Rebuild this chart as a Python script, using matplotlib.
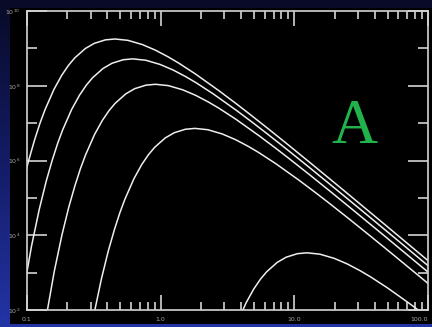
import matplotlib
matplotlib.use("Agg")
import matplotlib.pyplot as plt
import numpy as np
from matplotlib.patches import Rectangle
from matplotlib.colors import LinearSegmentedColormap
from matplotlib.ticker import FixedLocator, NullFormatter, LogLocator

# Photon radiance curves, log10(wavelength / um) and log10(radiance)
curve1_logwl = [-1.041, -0.990, -0.944, -0.903, -0.865, -0.798, -0.740, -0.689, -0.643, -0.564,
                -0.497, -0.413, -0.342, -0.245, -0.138, -0.041, 0.056, 0.135, 0.260, 0.436,
                0.561, 0.658, 0.804, 0.959, 1.135, 1.357, 1.658, 1.959, 2.135]
curve1_lograd = [5.229, 5.969, 6.543, 6.997, 7.361, 7.905, 8.281, 8.549, 8.744, 8.995,
                 9.134, 9.228, 9.251, 9.215, 9.103, 8.955, 8.773, 8.606, 8.315, 7.867,
                 7.531, 7.263, 6.851, 6.405, 5.891, 5.237, 4.343, 3.444, 2.917]

curve2_logwl = [-1.033, -0.966, -0.908, -0.857, -0.811, -0.770, -0.732, -0.665, -0.607, -0.556,
                -0.510, -0.431, -0.364, -0.280, -0.209, -0.112, -0.005, 0.092, 0.189, 0.268,
                0.393, 0.569, 0.694, 0.791, 0.937, 1.092, 1.268, 1.490, 1.791, 2.092]
curve2_lograd = [2.359, 3.713, 4.697, 5.437, 6.011, 6.465, 6.829, 7.373, 7.749, 8.017,
                 8.212, 8.463, 8.602, 8.696, 8.719, 8.683, 8.571, 8.423, 8.241, 8.074,
                 7.783, 7.335, 6.999, 6.731, 6.319, 5.873, 5.359, 4.705, 3.811, 2.912]

curve3_logwl = [-0.863, -0.796, -0.738, -0.687, -0.641, -0.600, -0.562, -0.495, -0.437, -0.386,
                -0.340, -0.261, -0.194, -0.110, -0.039, 0.058, 0.165, 0.262, 0.359, 0.438,
                0.563, 0.739, 0.864, 0.961, 1.107, 1.262, 1.438, 1.660, 1.961, 2.262]
curve3_lograd = [1.679, 3.033, 4.017, 4.757, 5.331, 5.785, 6.149, 6.693, 7.069, 7.337,
                 7.532, 7.783, 7.922, 8.016, 8.039, 8.003, 7.891, 7.743, 7.561, 7.394,
                 7.103, 6.655, 6.319, 6.051, 5.639, 5.193, 4.679, 4.025, 3.131, 2.232]

curve4_logwl = [-0.568, -0.501, -0.443, -0.392, -0.346, -0.305, -0.267, -0.200, -0.142, -0.091,
                -0.045, 0.034, 0.101, 0.185, 0.256, 0.353, 0.460, 0.557, 0.654, 0.733,
                0.858, 1.034, 1.159, 1.256, 1.402, 1.557, 1.733, 1.955, 2.256]
curve4_lograd = [0.499, 1.853, 2.837, 3.577, 4.151, 4.605, 4.969, 5.513, 5.889, 6.157,
                 6.352, 6.603, 6.742, 6.836, 6.859, 6.823, 6.711, 6.563, 6.381, 6.214,
                 5.923, 5.475, 5.139, 4.871, 4.459, 4.013, 3.499, 2.845, 1.951]

curve5_logwl = [0.492, 0.533, 0.571, 0.638, 0.696, 0.747, 0.793, 0.872, 0.939, 1.023,
                1.094, 1.191, 1.298, 1.395, 1.492, 1.571, 1.696, 1.872, 1.997, 2.094]
curve5_lograd = [0.822, 1.276, 1.640, 2.184, 2.560, 2.828, 3.023, 3.274, 3.413, 3.507,
                 3.530, 3.494, 3.382, 3.234, 3.052, 2.885, 2.594, 2.146, 1.810, 1.542]

x_ticks = [0.1, 1.0, 10.0, 100.0]
x_tick_labels = ["0.1", "1.0", "10.0", "100.0"]
y_major_exponents = [2, 4, 6, 8, 10]
y_minor_exponents = [3, 5, 7, 9]

W, H = 432, 327
fig = plt.figure(figsize=(W / 100, H / 100), dpi=100, facecolor="#121a5c")

# slide background: vertical navy-to-blue gradient
bg = fig.add_axes([0, 0, 1, 1], zorder=-20)
bg_cmap = LinearSegmentedColormap.from_list("slide", ["#080a26", "#141c66", "#2334a6"])
bg.imshow(np.linspace(0, 1, 256).reshape(-1, 1), cmap=bg_cmap, aspect="auto",
          extent=[0, 1, 0, 1], origin="upper")
bg.set_axis_off()

# black plotting panel
fig.patches.append(Rectangle((10 / W, 3 / H), 422 / W, 316 / H, transform=fig.transFigure,
                             facecolor="black", edgecolor="none", zorder=-10))

ax = fig.add_axes([27 / W, 17 / H, 401 / W, 299 / H])
ax.set_zorder(5)
ax.set_facecolor("black")
ax.set_xscale("log")
ax.set_yscale("log")
ax.set_xlim(0.1, 100)
ax.set_ylim(1e2, 1e10)

frame_col = "#d4d4d4"
for s in ax.spines.values():
    s.set_color(frame_col)
    s.set_linewidth(1.2)

curves = [(curve1_logwl, curve1_lograd), (curve2_logwl, curve2_lograd),
          (curve3_logwl, curve3_lograd), (curve4_logwl, curve4_lograd),
          (curve5_logwl, curve5_lograd)]
for lw_, lr_ in curves:
    ax.plot(10 ** np.array(lw_), 10 ** np.array(lr_), color="#eeeeee", lw=1.1)

px = 0.72  # points per pixel at 100 dpi
ax.xaxis.set_major_locator(FixedLocator(x_ticks))
ax.set_xticklabels(x_tick_labels)
ax.xaxis.set_minor_locator(LogLocator(base=10, subs=np.arange(2, 10)))
ax.xaxis.set_minor_formatter(NullFormatter())
ax.yaxis.set_major_locator(FixedLocator([10.0 ** e for e in y_major_exponents]))
ax.set_yticklabels([f"$10^{{{e}}}$" for e in y_major_exponents])
ax.yaxis.set_minor_locator(FixedLocator([10.0 ** e for e in y_minor_exponents]))
ax.yaxis.set_minor_formatter(NullFormatter())

lab_col = "#a8a8a8"
ax.tick_params(which="both", direction="in", top=True, right=True, color=frame_col, width=1.2)
ax.tick_params(axis="x", which="major", length=15 * px, pad=5, labelsize=4.5, labelcolor=lab_col)
ax.tick_params(axis="x", which="minor", length=8 * px)
ax.tick_params(axis="y", which="major", length=20 * px, pad=5, labelsize=4.5, labelcolor=lab_col)
ax.tick_params(axis="y", which="minor", length=10 * px)
ax.get_xticklabels()[-1].set_horizontalalignment("right")

ax.text((354 - 27) / 401, (310 - 143) / 299, "A", transform=ax.transAxes, ha="center",
        va="baseline", fontsize=46, color="#22b24c", family="Liberation Serif")

fig.savefig("out.png", dpi=100, facecolor=fig.get_facecolor())
